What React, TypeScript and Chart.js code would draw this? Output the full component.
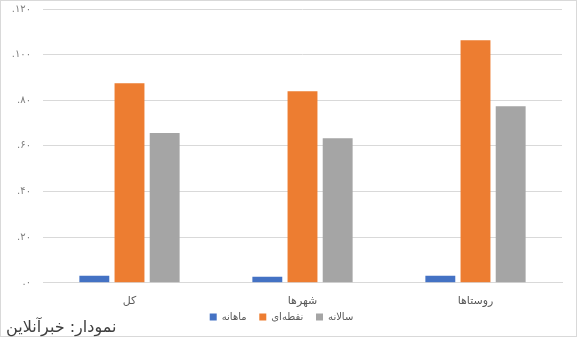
import React, { useEffect, useRef } from "react";
import { Chart, registerables } from "chart.js";

Chart.register(...registerables);

const categories = ["کل", "شهرها", "روستاها"];
const seriesNames = ["ماهانه", "نقطه‌ای", "سالانه"];
const monthly = [3.1, 2.6, 3.1];
const pointToPoint = [87.5, 84.0, 106.3];
const annual = [65.6, 63.4, 77.4];
const colors = ["#4472C4", "#ED7D31", "#A5A5A5"];
const yTicks = [0, 20, 40, 60, 80, 100, 120];

const toPersian = (n: number) =>
  String(n).replace(/[0-9]/g, (d) => "۰۱۲۳۴۵۶۷۸۹"[Number(d)]);

export default function App() {
  const ref = useRef<HTMLCanvasElement | null>(null);
  useEffect(() => {
    document.body.style.margin = "0";
    const ctx = ref.current!;
    const chart = new Chart(ctx, {
      type: "bar",
      data: {
        labels: categories,
        datasets: [monthly, pointToPoint, annual].map((d, i) => ({
          label: seriesNames[i],
          data: d,
          backgroundColor: colors[i],
          borderWidth: 0,
          categoryPercentage: 0.61,
          barPercentage: 0.85,
        })),
      },
      options: {
        animation: false,
        responsive: false,
        maintainAspectRatio: false,
        layout: { padding: { left: 0, right: 14, top: 8, bottom: 4 } },
        plugins: {
          legend: {
            position: "bottom",
            labels: {
              boxWidth: 7,
              boxHeight: 7,
              padding: 0,
              color: "#595959",
              font: { family: "DejaVu Sans", size: 10, lineHeight: 1 },
              generateLabels: (chart: any) =>
                Chart.defaults.plugins.legend.labels
                  .generateLabels(chart)
                  .map((l: any, i: number, arr: any[]) => ({
                    ...l,
                    text: i < arr.length - 1 ? l.text + "    " : l.text,
                  })),
            },
          },
          tooltip: { enabled: false },
        },
        scales: {
          x: {
            grid: { display: false },
            border: { color: "#d9d9d9" },
            ticks: {
              color: "#595959",
              font: { family: "DejaVu Sans", size: 11, lineHeight: 1.2 },
              padding: 4,
            },
          },
          y: {
            min: 0,
            max: 120,
            afterBuildTicks: (axis: any) => {
              axis.ticks = yTicks.map((v) => ({ value: v }));
            },
            afterFit: (s: any) => {
              s.paddingTop = 0;
              s.paddingBottom = 0;
              s.width = 42;
            },
            grid: { color: "#d9d9d9", drawTicks: false },
            border: { display: false },
            ticks: {
              color: "#7f7f7f",
              font: { family: "DejaVu Sans", size: 10 },
              padding: 12,
              callback: (v: any) => "." + toPersian(Number(v)),
            },
          },
        },
      },
    });
    return () => chart.destroy();
  }, []);
  return (
    <div
      style={{
        position: "fixed",
        left: 0,
        top: 0,
        width: 577,
        height: 337,
        boxSizing: "border-box",
        border: "1px solid #d9d9d9",
        background: "#fff",
      }}
    >
      <canvas ref={ref} width={575} height={335} style={{ display: "block" }} />
      <div
        dir="rtl"
        style={{
          position: "absolute",
          left: 5,
          top: 316,
          fontFamily: "DejaVu Sans",
          fontSize: 16,
          color: "#404040",
          whiteSpace: "nowrap",
        }}
      >
        نمودار: خبرآنلاین
      </div>
    </div>
  );
}
